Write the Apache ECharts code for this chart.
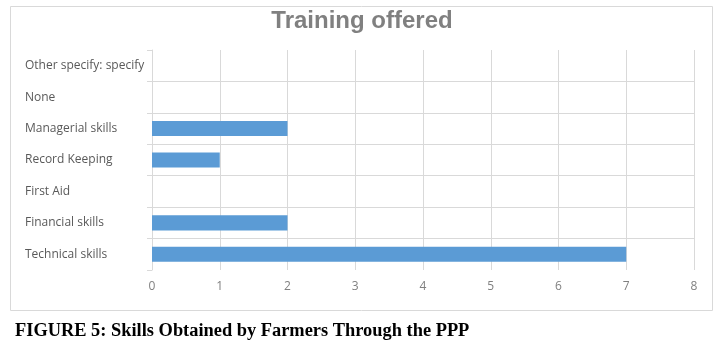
<!DOCTYPE html>
<html><head><meta charset="utf-8">
<script src="https://cdn.jsdelivr.net/npm/echarts@6/dist/echarts.min.js"></script>
<style>html,body{margin:0;padding:0;background:#fff}#c{width:723px;height:343px}</style>
</head><body><div id="c"></div>
<script>
const categories = ["Other specify: specify","None","Managerial skills","Record Keeping","First Aid","Financial skills","Technical skills"];
const values = [0,0,2,1,0,2,7];
const xTicks = [0,1,2,3,4,5,6,7,8];
const titleText = "Training offered";
const captionText = "FIGURE 5: Skills Obtained by Farmers Through the PPP";

const chart = echarts.init(document.getElementById('c'), null, {renderer:'canvas'});
chart.setOption({
  animation:false,
  title:[{text:titleText,left:362,textAlign:'center',top:9,padding:0,textStyle:{fontFamily:'Liberation Sans',fontSize:24,fontWeight:'bold',color:'#808080'}},
         {text:captionText,left:15,top:322,padding:0,textStyle:{fontFamily:'Liberation Serif',fontSize:18.4,fontWeight:'bold',color:'#000'}}],
  graphic:[{type:'rect',shape:{x:10.5,y:6.5,width:702,height:304},style:{fill:'none',stroke:'#d9d9d9',lineWidth:1},silent:true,z:-1}],
  grid:{left:152,right:29,top:50,bottom:73,containLabel:false},
  xAxis:{type:'value',min:xTicks[0],max:xTicks[xTicks.length-1],interval:1,
    axisLine:{show:false},axisTick:{show:false},
    axisLabel:{margin:11,color:'#808080',fontFamily:'Open Sans',fontSize:12},
    splitLine:{show:true,lineStyle:{color:'#d9d9d9',width:1}}},
  yAxis:{type:'category',data:categories,inverse:true,
    axisLine:{show:true,lineStyle:{color:'#d9d9d9'}},
    axisTick:{show:true,length:5,lineStyle:{color:'#d9d9d9'}},
    axisLabel:{align:'left',margin:127,color:'#595959',fontFamily:'Open Sans',fontSize:12,padding:[3,0,0,0]},
    splitLine:{show:true,showMinLine:false,showMaxLine:false,lineStyle:{color:'#d9d9d9',width:1}}},
  series:[{type:'bar',data:values,barWidth:'48%',itemStyle:{color:'#5b9bd5'}}]
});
</script></body></html>
